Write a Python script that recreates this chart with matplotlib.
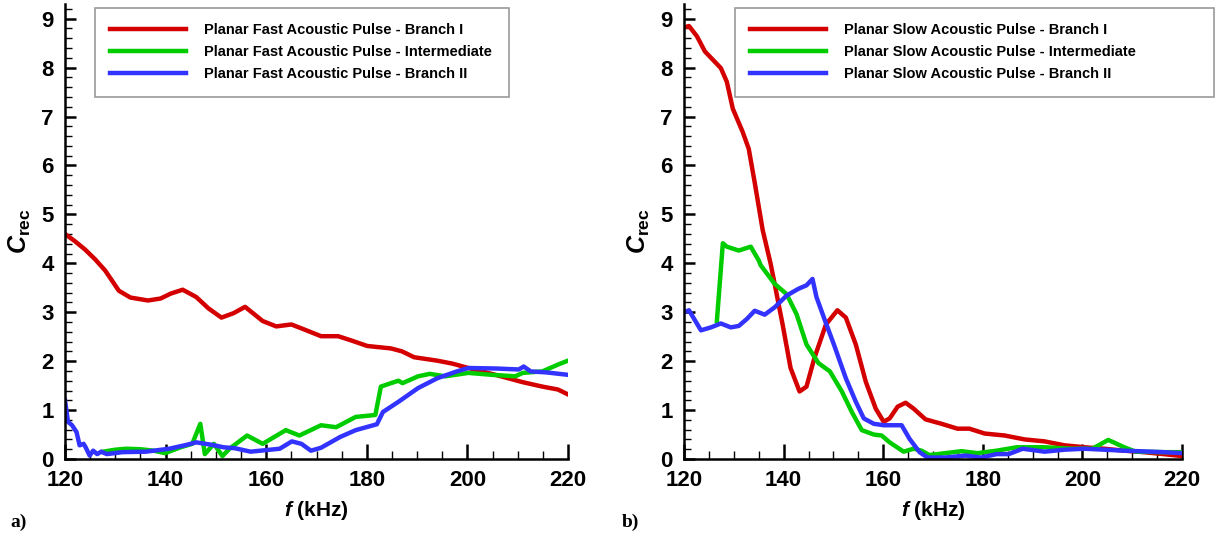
import matplotlib
matplotlib.use("Agg")
import matplotlib.pyplot as plt
from matplotlib.ticker import MultipleLocator

plt.rcParams['font.family'] = 'Liberation Sans'
plt.rcParams['font.weight'] = 'bold'
plt.rcParams['mathtext.fontset'] = 'custom'
plt.rcParams['mathtext.it'] = 'Liberation Sans:italic:bold'
plt.rcParams['mathtext.rm'] = 'Liberation Sans:bold'
plt.rcParams['mathtext.bf'] = 'Liberation Sans:bold'

# ---- panel a) fast acoustic pulse ----
fast_b1_f = [120, 122, 124, 126, 128, 130.7, 133, 136.5, 139, 141, 143.4, 146.1, 148.5, 151.1, 153.5, 155.8,
             159.3, 162, 165, 167.5, 170.9, 174.3, 177, 180.1, 184.8, 187, 189.4, 194, 197, 200.2, 205.6,
             211, 214.9, 218, 220]
fast_b1_c = [4.6, 4.45, 4.28, 4.08, 3.85, 3.44, 3.3, 3.24, 3.28, 3.38, 3.46, 3.31, 3.08, 2.89, 2.98, 3.11,
             2.82, 2.71, 2.75, 2.65, 2.51, 2.51, 2.42, 2.31, 2.26, 2.2, 2.08, 2.01, 1.95, 1.86, 1.72,
             1.57, 1.48, 1.42, 1.32]

fast_int_f = [127.6, 130, 132.2, 135, 137.6, 139.9, 143, 145.3, 146.9, 147.8, 149.6, 151.3, 152.7, 156.2,
              159.3, 163.9, 166.6, 170.9, 173.9, 177.8, 181.7, 182.8, 184.8, 186.3, 187.1, 190.2, 192.5,
              195.6, 200.2, 204.9, 209.5, 211, 214.9, 218, 220]
fast_int_c = [0.15, 0.19, 0.21, 0.2, 0.17, 0.12, 0.24, 0.31, 0.72, 0.1, 0.31, 0.06, 0.21, 0.48,
              0.31, 0.59, 0.48, 0.69, 0.65, 0.86, 0.9, 1.48, 1.55, 1.6, 1.55, 1.69, 1.74,
              1.69, 1.76, 1.72, 1.69, 1.76, 1.79, 1.93, 2.01]

fast_b2_f = [120, 120.6, 121.4, 122.3, 122.9, 123.7, 124.1, 124.9, 125.6, 126.4, 127.2, 128.3, 131.4, 136.1,
             140.7, 143.8, 146.1, 149.2, 151.5, 153.8, 156.9, 160.8, 162.7, 165.1, 167, 168.9, 170.9,
             174.7, 177.8, 182, 183.2, 186.3, 190.2, 194, 197.9, 200.2, 205.6, 210.2, 211.2, 212.6,
             215.7, 220]
fast_b2_c = [1.2, 0.76, 0.69, 0.55, 0.28, 0.31, 0.24, 0.07, 0.17, 0.1, 0.15, 0.1, 0.14, 0.15,
             0.21, 0.28, 0.34, 0.29, 0.24, 0.22, 0.15, 0.19, 0.21, 0.36, 0.31, 0.17, 0.23,
             0.45, 0.59, 0.71, 0.96, 1.17, 1.45, 1.65, 1.79, 1.86, 1.85, 1.83, 1.89, 1.79,
             1.77, 1.72]

# ---- panel b) slow acoustic pulse ----
slow_b1_f = [120, 121, 122.6, 124.2, 125.8, 127.4, 128.6, 129.8, 131.8, 133, 134.2, 135.8, 137.4, 138.2,
             139.8, 141.4, 143.2, 144.6, 146.2, 148.5, 150.8, 152.5, 154.5, 156.5, 158.5, 160.1, 161.3,
             162.9, 164.5, 166.1, 168.5, 171.7, 174.9, 177.3, 180.4, 184.4, 188.4, 192.4, 196.4,
             200.4, 204.4, 208.4, 212.3, 216.3, 220]
slow_b1_c = [8.82, 8.85, 8.64, 8.33, 8.16, 7.99, 7.71, 7.16, 6.68, 6.34, 5.65, 4.68, 3.99, 3.58,
             2.75, 1.86, 1.38, 1.48, 2.07, 2.75, 3.04, 2.89, 2.34, 1.58, 1.03, 0.76, 0.83,
             1.07, 1.15, 1.03, 0.81, 0.72, 0.62, 0.62, 0.52, 0.48, 0.4, 0.36, 0.28,
             0.24, 0.21, 0.17, 0.14, 0.1, 0.06]

slow_int_f = [126.6, 127.8, 128.6, 131, 133.4, 135, 135.4, 138.2, 140.6, 142.6, 144.6, 147, 149.3, 151.7,
              153.7, 155.7, 158.1, 159.7, 161.3, 164.1, 166.1, 167.7, 169.3, 172.5, 175.7, 178.9,
              182.8, 186.8, 192.4, 198, 202, 205.2, 208.4, 210.7, 216.3, 220]
slow_int_c = [2.82, 4.41, 4.34, 4.26, 4.34, 4.06, 3.96, 3.58, 3.37, 2.96, 2.34, 1.96, 1.79, 1.38,
              0.96, 0.59, 0.5, 0.48, 0.34, 0.15, 0.21, 0.17, 0.08, 0.12, 0.16, 0.12,
              0.17, 0.24, 0.24, 0.21, 0.21, 0.39, 0.24, 0.15, 0.14, 0.14]

slow_b2_f = [120, 121, 123.4, 125.4, 127.4, 129.4, 131, 132.6, 134.2, 136.2, 138.2, 140.6, 143, 144.6,
             145.8, 146.6, 148.2, 150.1, 152.5, 154.5, 156.1, 158.1, 160.1, 163.7, 165.3, 167.3,
             168.9, 172.5, 176.5, 179.6, 182.8, 185.2, 188, 192.4, 196.4, 200.4, 208.4, 216.3, 220]
slow_b2_c = [3.0, 3.04, 2.63, 2.69, 2.77, 2.69, 2.72, 2.86, 3.03, 2.95, 3.1, 3.34, 3.48, 3.55,
             3.68, 3.31, 2.86, 2.34, 1.65, 1.17, 0.83, 0.72, 0.69, 0.69, 0.41, 0.14,
             0.03, 0.03, 0.07, 0.03, 0.1, 0.1, 0.21, 0.15, 0.19, 0.21, 0.17, 0.14, 0.12]

labels_fast = ["Planar Fast Acoustic Pulse - Branch I",
               "Planar Fast Acoustic Pulse - Intermediate",
               "Planar Fast Acoustic Pulse - Branch II"]
labels_slow = ["Planar Slow Acoustic Pulse - Branch I",
               "Planar Slow Acoustic Pulse - Intermediate",
               "Planar Slow Acoustic Pulse - Branch II"]
colors = ["#d40000", "#00cc00", "#3333ff"]

W, H = 1228, 536
fig = plt.figure(figsize=(W / 100, H / 100), dpi=100)
# axes boxes in pixels: (left, right), bottom at 459, top at 4
ax1 = fig.add_axes([65 / W, 1 - 459 / H, (568 - 65) / W, 455 / H])
ax2 = fig.add_axes([684 / W, 1 - 459 / H, (1182 - 684) / W, 455 / H])

panels = [
    (ax1, [(fast_b1_f, fast_b1_c), (fast_int_f, fast_int_c), (fast_b2_f, fast_b2_c)], labels_fast, (95, 509)),
    (ax2, [(slow_b1_f, slow_b1_c), (slow_int_f, slow_int_c), (slow_b2_f, slow_b2_c)], labels_slow, (735, 1214)),
]

for ax, series, labels, (lx0, lx1) in panels:
    for (x, y), lab, col in zip(series, labels, colors):
        ax.plot(x, y, color=col, lw=3.2, label=lab, solid_joinstyle='round')
    ax.set_xlim(120, 220)
    ax.set_ylim(0, 9.3)
    ax.spines['top'].set_visible(False)
    ax.spines['right'].set_visible(False)
    ax.spines['left'].set_linewidth(1.8)
    ax.spines['bottom'].set_linewidth(1.8)
    ax.xaxis.set_major_locator(MultipleLocator(20))
    ax.xaxis.set_minor_locator(MultipleLocator(5))
    ax.yaxis.set_major_locator(MultipleLocator(1))
    ax.yaxis.set_minor_locator(MultipleLocator(0.2))
    ax.tick_params(axis='x', which='major', direction='in', length=11, width=1.8, labelsize=16, pad=8)
    ax.tick_params(axis='x', which='minor', direction='in', length=6, width=1.0)
    ax.tick_params(axis='y', which='major', direction='in', length=8, width=1.8, labelsize=16, pad=8)
    ax.tick_params(axis='y', which='minor', direction='in', length=5, width=1.0)
    for t in ax.get_xticklabels() + ax.get_yticklabels():
        t.set_fontweight('bold')
    ax.set_xlabel("$f$ (kHz)", fontsize=15, fontweight='bold', labelpad=6)
    ax.set_ylabel(r"$C_{\mathrm{rec}}$", fontsize=18, labelpad=6)

    ax_left = ax.get_position().x0 * W
    ax_w = ax.get_position().width * W
    bx0 = (lx0 - ax_left) / ax_w
    bw = (lx1 - lx0) / ax_w
    leg = ax.legend(loc='upper left', bbox_to_anchor=(bx0, 1 - 4 / 455, bw, 0),
                    mode='expand', fontsize=10.5, frameon=True, fancybox=False,
                    handlelength=5.2, handletextpad=1.25, borderpad=1.05, labelspacing=0.55,
                    borderaxespad=0)
    leg.get_frame().set_edgecolor('#808080')
    leg.get_frame().set_linewidth(1.2)
    for t in leg.get_texts():
        t.set_fontweight('bold')

fig.text(10 / W, 1 - 522 / H, "a)", fontsize=14, fontweight='bold', family='Liberation Serif',
         va='center')
fig.text(622 / W, 1 - 522 / H, "b)", fontsize=14, fontweight='bold', family='Liberation Serif',
         va='center')

fig.savefig("out.png", dpi=100)
